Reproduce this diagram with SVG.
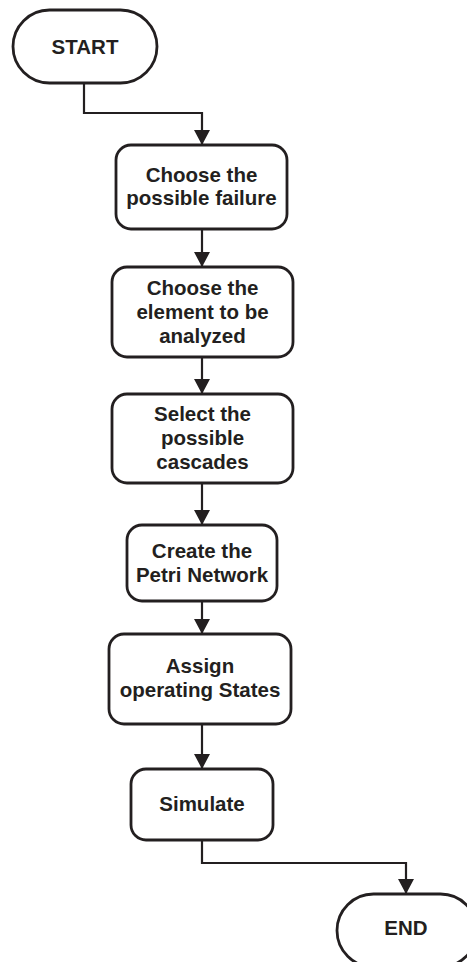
<svg xmlns="http://www.w3.org/2000/svg" width="467" height="962" viewBox="0 0 467 962">
  <style>
    .shape { fill: #ffffff; stroke: #231f20; stroke-width: 2.8; }
    .label { font-family: "Liberation Sans", Arial, sans-serif; font-weight: bold; font-size: 20.5px; fill: #231f20; text-anchor: middle; }
    .flow { fill: none; stroke: #231f20; stroke-width: 2.2; marker-end: url(#arrow); }
  </style>
  <defs>
    <marker id="arrow" viewBox="0 0 15 16" refX="15" refY="8" markerWidth="15" markerHeight="16" markerUnits="userSpaceOnUse" orient="auto">
      <path d="M0,0 L15,8 L0,16 Z" fill="#231f20"/>
    </marker>
  </defs>
  <rect width="467" height="962" fill="#ffffff"/>

  <!-- connectors -->
  <g id="connectors">
    <path class="flow" d="M84,83 V113 H202 V145"/>
    <path class="flow" d="M202,229 V267"/>
    <path class="flow" d="M202,357 V394"/>
    <path class="flow" d="M202,483 V525"/>
    <path class="flow" d="M202,601 V634"/>
    <path class="flow" d="M202,724 V769"/>
    <path class="flow" d="M202,840 V863 H406 V894"/>
  </g>

  <g id="start">
    <rect class="shape" x="13" y="10" width="144" height="73" rx="36.5" ry="36.5"/>
    <text class="label" x="85" y="54">START</text>
  </g>

  <g id="choose-failure">
    <rect class="shape" x="116" y="145" width="171" height="84" rx="15" ry="15"/>
    <text class="label" x="201.5" y="182">Choose the</text>
    <text class="label" x="201.5" y="205">possible failure</text>
  </g>

  <g id="choose-element">
    <rect class="shape" x="112" y="267" width="181" height="90" rx="15" ry="15"/>
    <text class="label" x="202.5" y="295">Choose the</text>
    <text class="label" x="202.5" y="319">element to be</text>
    <text class="label" x="202.5" y="343">analyzed</text>
  </g>

  <g id="select-cascades">
    <rect class="shape" x="112" y="394" width="181" height="89" rx="15" ry="15"/>
    <text class="label" x="202.5" y="421">Select the</text>
    <text class="label" x="202.5" y="445">possible</text>
    <text class="label" x="202.5" y="469">cascades</text>
  </g>

  <g id="create-petri">
    <rect class="shape" x="127" y="525" width="150" height="76" rx="15" ry="15"/>
    <text class="label" x="202" y="558">Create the</text>
    <text class="label" x="202" y="582">Petri Network</text>
  </g>

  <g id="assign-states">
    <rect class="shape" x="109" y="634" width="182" height="90" rx="15" ry="15"/>
    <text class="label" x="200" y="673">Assign</text>
    <text class="label" x="200" y="697">operating States</text>
  </g>

  <g id="simulate">
    <rect class="shape" x="131" y="769" width="142" height="71" rx="15" ry="15"/>
    <text class="label" x="202" y="811">Simulate</text>
  </g>

  <g id="end">
    <rect class="shape" x="337" y="894" width="140" height="73" rx="36.5" ry="36.5"/>
    <text class="label" x="406" y="935">END</text>
  </g>
</svg>
